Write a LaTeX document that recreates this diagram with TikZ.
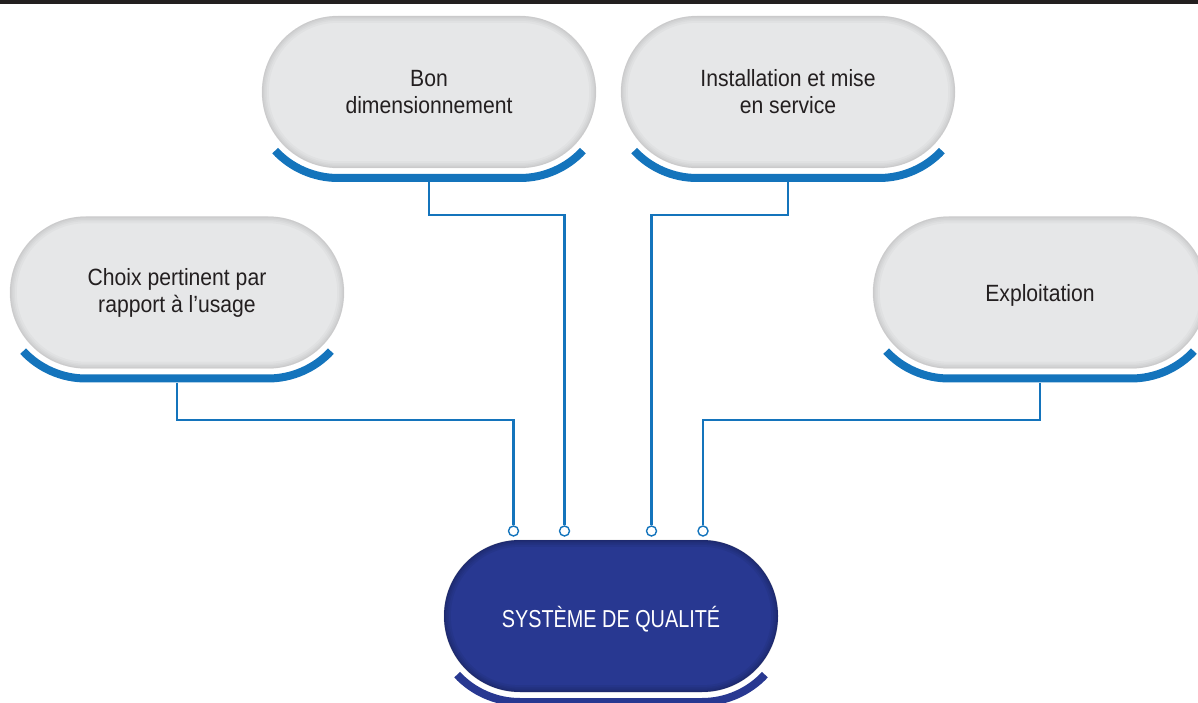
\documentclass[tikz,border=0pt]{standalone}
\usepackage{fontspec}
\setmainfont[FakeStretch=0.9]{Liberation Sans}
\newfontfamily\condfont[FakeStretch=0.81]{Liberation Sans}
\usetikzlibrary{calc}
\definecolor{pillgray}{HTML}{E6E7E8}
\definecolor{lineblue}{HTML}{1474BC}
\definecolor{navy}{HTML}{283891}
\definecolor{ink}{HTML}{231F20}
\tikzset{
  pill/.style={rectangle, rounded corners=76pt, minimum width=334pt, minimum height=152pt,
    inner sep=0pt, fill=pillgray, text=ink, align=center,
    font=\fontsize{23.5}{27}\selectfont},
  core/.style={pill, fill=navy, text=white},
  conn/.style={draw=lineblue, line width=2.2pt},
  port/.style={circle, draw=lineblue, line width=1.4pt, fill=white, minimum size=10pt, inner sep=0pt},
  bracket/.style={line width=8pt, draw=lineblue},
}
\newcommand\pillshade[3]{%
  \begin{scope}
    \clip[rounded corners=76pt] (#1.south west) rectangle (#1.north east);
    \foreach \w in {14,10,7,4,2}{%
      \draw[draw=#2, opacity=#3, line width=\w pt, rounded corners=76pt]
        (#1.south west) rectangle (#1.north east);}
  \end{scope}}
\newcommand\pillarc[2]{%
  \draw[bracket, draw=#2] ($(#1.center)+(-91pt,0pt)+(223:86pt)$)
    arc[start angle=223, end angle=270, radius=86pt] -- ++(182pt,0pt)
    arc[start angle=270, end angle=317, radius=86pt];}
\begin{document}
\begin{tikzpicture}[x=1pt,y=1pt]
\useasboundingbox (0,0) rectangle (1198,702);
\clip (0,0) rectangle (1198,702);
\fill[ink] (0,698.3) rectangle (1198,702);
% nodes
\node[pill] (bon) at (429,610) {Bon\\dimensionnement};
\node[pill] (inst) at (788,610) {Installation et mise\\en service};
\node[pill] (choix) at (177,409.5) {Choix pertinent par\\rapport à l’usage};
\node[pill] (expl) at (1040,409.5) {\raisebox{-3pt}[\height][\depth]{Exploitation}};
\pillshade{bon}{black}{0.022}
\pillshade{inst}{black}{0.022}
\pillshade{choix}{black}{0.022}
\pillshade{expl}{black}{0.022}
\node[core] (sq) at (611,86) {};
\pillshade{sq}{black}{0.05}
\node[text=white, font=\condfont\fontsize{24.5}{27}\selectfont] (sqtext) at ([yshift=-3pt]sq.center) {SYSTÈME DE QUALITÉ};
% brackets
\pillarc{bon}{lineblue}
\pillarc{inst}{lineblue}
\pillarc{choix}{lineblue}
\pillarc{expl}{lineblue}
\pillarc{sq}{navy}
% ports
\node[port] (p1) at (513.5,171) {};
\node[port] (p2) at (564.5,171) {};
\node[port] (p3) at (651.5,171) {};
\node[port] (p4) at (703,171) {};
% connectors
\draw[conn] ([yshift=-14pt]choix.south) -- ++(0pt,-37pt) -| (p1.north);
\draw[conn] ([yshift=-14pt]bon.south) -- ++(0pt,-33pt) -| (p2.north);
\draw[conn] ([yshift=-14pt]inst.south) -- ++(0pt,-33pt) -| (p3.north);
\draw[conn] ([yshift=-14pt]expl.south) -- ++(0pt,-37pt) -| (p4.north);
\end{tikzpicture}
\end{document}
